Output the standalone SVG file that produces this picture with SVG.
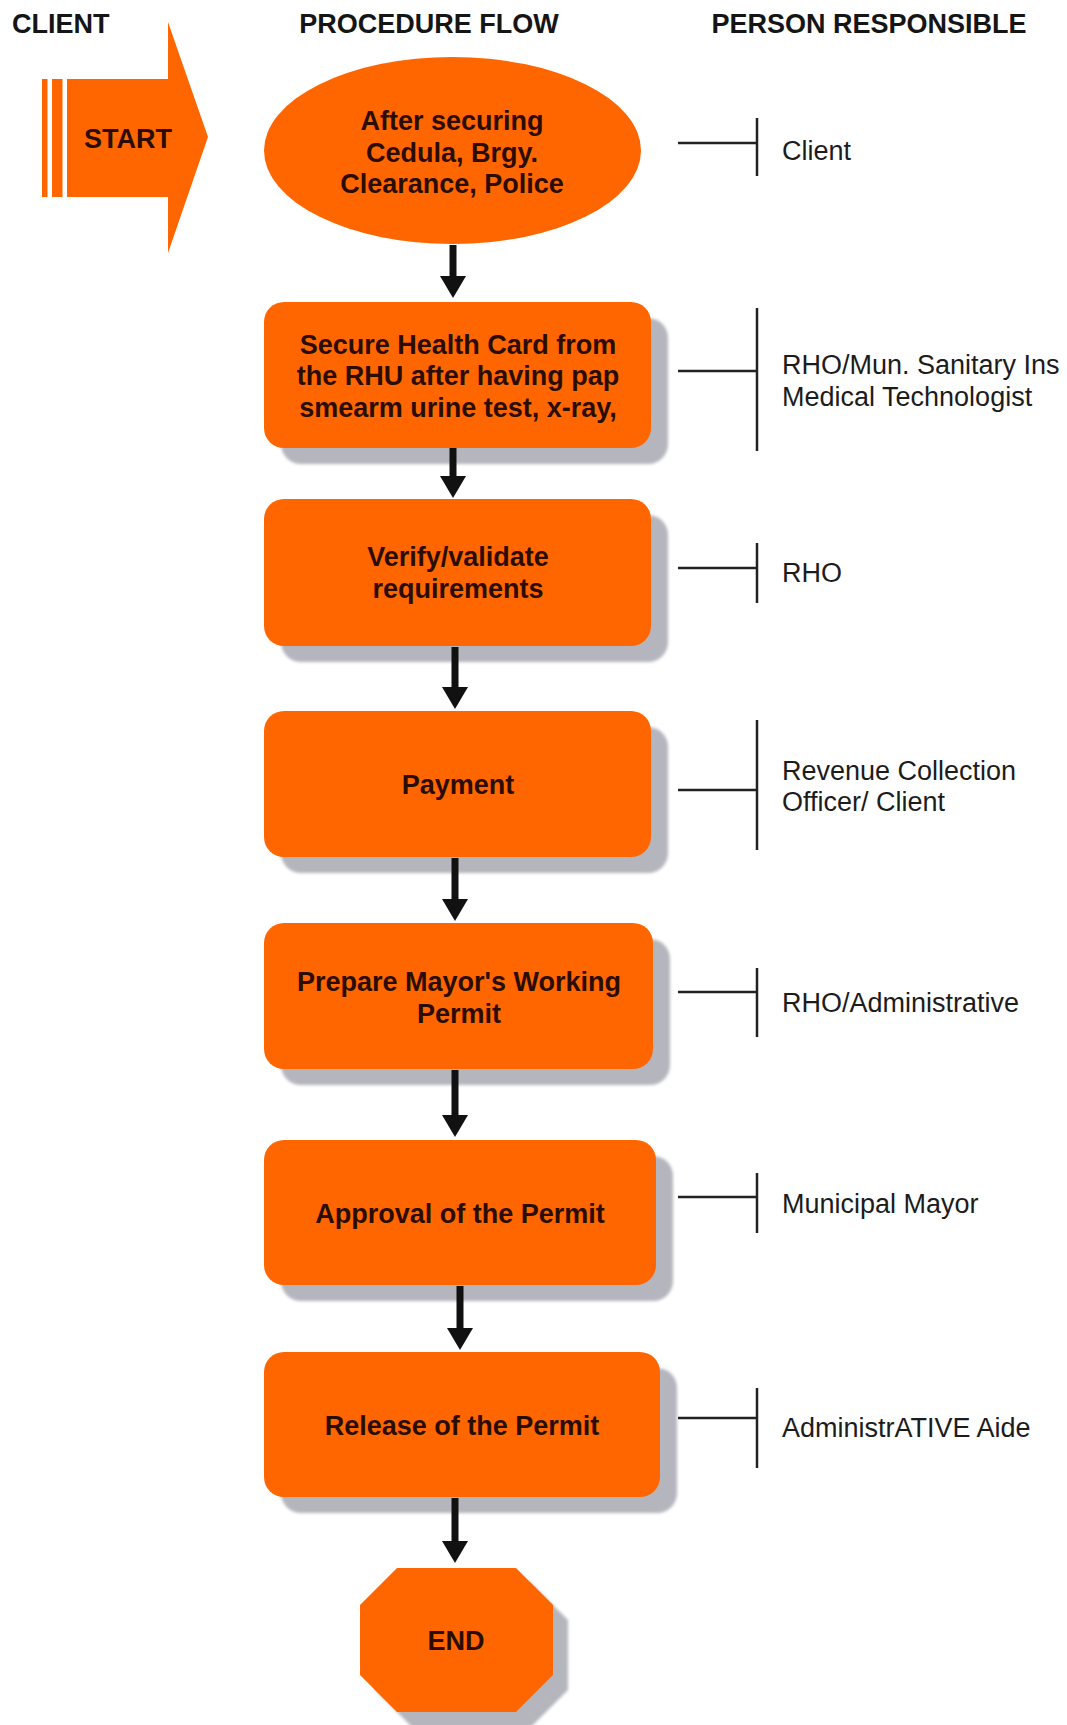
<svg xmlns="http://www.w3.org/2000/svg" width="1067" height="1725" viewBox="0 0 1067 1725">
<style>
.hd{font-family:"Liberation Sans",Arial,sans-serif;font-weight:bold;font-size:27px;fill:#151515}
.nt{font-family:"Liberation Sans",Arial,sans-serif;font-weight:bold;font-size:27px;fill:#2a0c02;text-anchor:middle}
.rt{font-family:"Liberation Sans",Arial,sans-serif;font-size:27px;fill:#1c1c1c}
.box{fill:#ff6600}
.sh{fill:#b5b5bd}
.ln{stroke:#111111;stroke-width:7;fill:none}
.br{stroke:#222;stroke-width:2.5;fill:none}
</style>
<defs>
<marker id="ah" markerUnits="userSpaceOnUse" markerWidth="22" markerHeight="26" refX="0" refY="13" orient="auto">
<path d="M0,0 L22,13 L0,26 z" fill="#111111"/>
</marker>
<filter id="blur" x="-10%" y="-10%" width="120%" height="120%"><feGaussianBlur stdDeviation="1.5"/></filter>
</defs>
<rect width="1067" height="1725" fill="#ffffff"/>

<g id="headings">
<text class="hd" x="12" y="33">CLIENT</text>
<text class="hd" x="429" y="33" text-anchor="middle">PROCEDURE FLOW</text>
<text class="hd" x="869" y="33" text-anchor="middle">PERSON RESPONSIBLE</text>
</g>

<g id="start">
<rect x="42" y="79" width="5.5" height="118" class="box"/>
<rect x="52" y="79" width="10.5" height="118" class="box"/>
<path d="M67,79 L168,79 L168,22 L208,137 L168,253 L168,197 L67,197 z" class="box"/>
<text class="nt" x="128" y="148">START</text>
</g>

<g id="n0">
<ellipse cx="452.5" cy="150.5" rx="188.5" ry="93.5" class="box"/>
<text class="nt" x="452" y="130">After securing</text>
<text class="nt" x="452" y="162">Cedula, Brgy.</text>
<text class="nt" x="452" y="193">Clearance, Police</text>
</g>

<g id="n1">
<rect x="281" y="318" width="387" height="146" rx="20" class="sh" filter="url(#blur)"/>
<rect x="264" y="302" width="387" height="146" rx="20" class="box"/>
<text class="nt" x="458" y="354">Secure Health Card from</text>
<text class="nt" x="458" y="385">the RHU after having pap</text>
<text class="nt" x="458" y="417">smearm urine test, x-ray,</text>
</g>

<g id="n2">
<rect x="281" y="515" width="387" height="147" rx="20" class="sh" filter="url(#blur)"/>
<rect x="264" y="499" width="387" height="147" rx="20" class="box"/>
<text class="nt" x="458" y="566">Verify/validate</text>
<text class="nt" x="458" y="598">requirements</text>
</g>

<g id="n3">
<rect x="281" y="727" width="387" height="146" rx="20" class="sh" filter="url(#blur)"/>
<rect x="264" y="711" width="387" height="146" rx="20" class="box"/>
<text class="nt" x="458" y="794">Payment</text>
</g>

<g id="n4">
<rect x="281" y="939" width="389" height="146" rx="20" class="sh" filter="url(#blur)"/>
<rect x="264" y="923" width="389" height="146" rx="20" class="box"/>
<text class="nt" x="459" y="991">Prepare Mayor's Working</text>
<text class="nt" x="459" y="1023">Permit</text>
</g>

<g id="n5">
<rect x="281" y="1156" width="392" height="145" rx="20" class="sh" filter="url(#blur)"/>
<rect x="264" y="1140" width="392" height="145" rx="20" class="box"/>
<text class="nt" x="460" y="1223">Approval of the Permit</text>
</g>

<g id="n6">
<rect x="281" y="1368" width="396" height="145" rx="20" class="sh" filter="url(#blur)"/>
<rect x="264" y="1352" width="396" height="145" rx="20" class="box"/>
<text class="nt" x="462" y="1435">Release of the Permit</text>
</g>

<g id="end">
<polygon points="412,1583 531,1583 568,1620 568,1690 531,1727 412,1727 375,1690 375,1620" class="sh" filter="url(#blur)"/>
<polygon points="397,1568 516,1568 553,1605 553,1675 516,1712 397,1712 360,1675 360,1605" class="box"/>
<text class="nt" x="456" y="1650">END</text>
</g>

<g id="connectors">
<line class="ln" x1="453" y1="245" x2="453" y2="276" marker-end="url(#ah)"/>
<line class="ln" x1="453" y1="448" x2="453" y2="476" marker-end="url(#ah)"/>
<line class="ln" x1="455" y1="647" x2="455" y2="687" marker-end="url(#ah)"/>
<line class="ln" x1="455" y1="858" x2="455" y2="899" marker-end="url(#ah)"/>
<line class="ln" x1="455" y1="1070" x2="455" y2="1115" marker-end="url(#ah)"/>
<line class="ln" x1="460" y1="1286" x2="460" y2="1328" marker-end="url(#ah)"/>
<line class="ln" x1="455" y1="1498" x2="455" y2="1541" marker-end="url(#ah)"/>
</g>

<g id="r0">
<path class="br" d="M678,143 H757 M757,118 V176"/>
<text class="rt" x="782" y="160">Client</text>
</g>
<g id="r1">
<path class="br" d="M678,371 H757 M757,308 V451"/>
<text class="rt" x="782" y="374">RHO/Mun. Sanitary Ins</text>
<text class="rt" x="782" y="406">Medical Technologist</text>
</g>
<g id="r2">
<path class="br" d="M678,568 H757 M757,543 V603"/>
<text class="rt" x="782" y="582">RHO</text>
</g>
<g id="r3">
<path class="br" d="M678,790 H757 M757,720 V850"/>
<text class="rt" x="782" y="780">Revenue Collection</text>
<text class="rt" x="782" y="811">Officer/ Client</text>
</g>
<g id="r4">
<path class="br" d="M678,992 H757 M757,968 V1037"/>
<text class="rt" x="782" y="1012">RHO/Administrative</text>
</g>
<g id="r5">
<path class="br" d="M678,1197 H757 M757,1173 V1233"/>
<text class="rt" x="782" y="1213">Municipal Mayor</text>
</g>
<g id="r6">
<path class="br" d="M678,1418 H757 M757,1388 V1468"/>
<text class="rt" x="782" y="1437">AdministrATIVE Aide</text>
</g>
</svg>
